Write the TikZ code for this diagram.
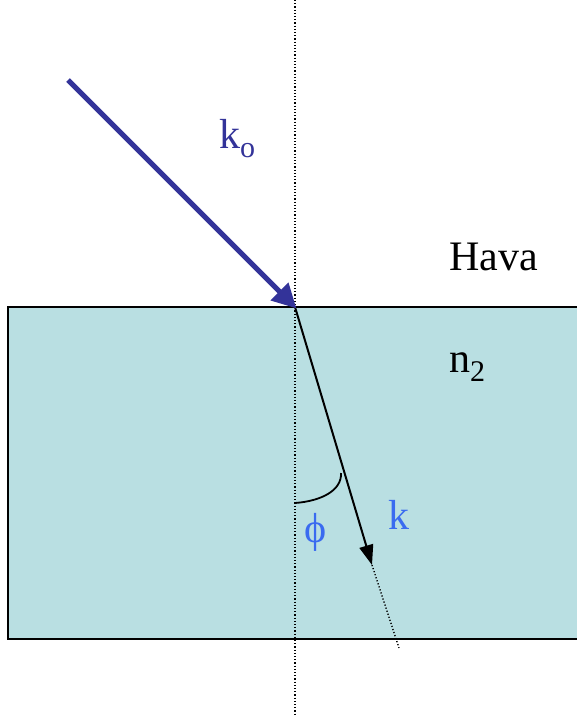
\documentclass[tikz,border=0pt]{standalone}
\usepackage{fontspec}
\setmainfont{Liberation Serif}
\usetikzlibrary{arrows.meta}
\definecolor{slab}{HTML}{B9DFE2}
\definecolor{navyray}{HTML}{333399}
\definecolor{lblue}{HTML}{3A6BF0}
\tikzset{
  lbl/.style={inner sep=0pt, font=\fontsize{42}{48}\selectfont},
  guide/.style={line width=1.4pt, dash pattern=on 1.2pt off 2pt},
}
\begin{document}
\begin{tikzpicture}[x=1pt,y=-1pt]
\useasboundingbox (0,0) rectangle (576,717);
\fill[white] (0,0) rectangle (576,717);
% slab
\draw[fill=slab, line width=1.6pt] (8,307) rectangle (580,639);
% points
\coordinate (O) at (295,307);
\coordinate (A) at (68,80);
\coordinate (T) at (372,565);
\coordinate (E) at (399,648);
\coordinate (V1) at (295,0);
\coordinate (V2) at (295,717);
\coordinate (P1) at (295,503);
\coordinate (P2) at (341,473);
% normal
\draw[guide] (V1) -- (V2);
% refracted ray dotted continuation
\draw[guide] (T) -- (E);
% refracted ray
\draw[line width=2pt, -{Triangle[length=20pt,width=14pt]}] (O) -- (T);
% incident ray
\draw[navyray, line width=5pt, -{Triangle[length=24pt,width=24pt]}, shorten >=-2pt] (A) -- (O);
% angle arc
\draw[line width=1.8pt] (P1) .. controls (322,501) and (342,490) .. (P2);
% labels
\node[lbl, text=navyray, anchor=base west] (ko) at (219,148) {k\raisebox{-9pt}{\fontsize{30}{34}\selectfont o}};
\node[lbl, anchor=base west] (hava) at (449,270) {Hava};
\node[lbl, anchor=base west] (n2) at (449,372) {n\raisebox{-9pt}{\fontsize{30}{34}\selectfont 2}};
\node[lbl, text=lblue, anchor=base west] (phi) at (304,542) {ϕ};
\node[lbl, text=lblue, anchor=base west] (k) at (388,529) {k};
\end{tikzpicture}
\end{document}
